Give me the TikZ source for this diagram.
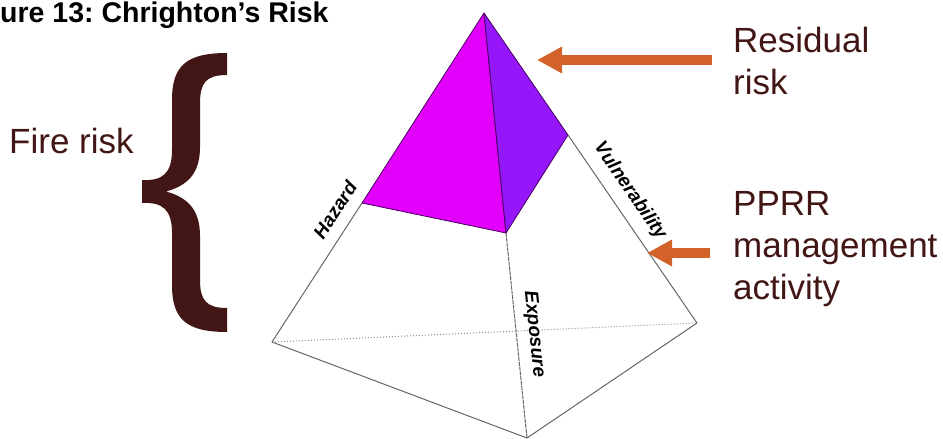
\documentclass[tikz,border=0pt]{standalone}
\usepackage{fontspec}
\setmainfont{Liberation Sans}
\usetikzlibrary{arrows.meta}
\definecolor{riskbrown}{RGB}{66,22,20}
\definecolor{arroworange}{RGB}{210,98,42}
\definecolor{hazface}{RGB}{226,0,250}
\definecolor{vulface}{RGB}{150,22,250}
\definecolor{faceedge}{RGB}{70,0,95}
\frenchspacing

\begin{document}
\begin{tikzpicture}[x=1pt, y=-1pt, every node/.style={inner sep=0pt}, label/.style={font=\fontsize{35}{42}\selectfont, text=riskbrown, align=left}, edgelabel/.style={font=\fontsize{19}{19}\selectfont\bfseries\itshape}, lowedge/.style={draw=black!60, line width=1pt}, riskarrow/.style={draw=arroworange, line width=10pt, -{Triangle[length=25pt,width=25pt]}}]
\useasboundingbox (0,0) rectangle (943,439);
% pyramid corners
\coordinate (apex) at (484,13);
\coordinate (hz) at (362,203);
\coordinate (fc) at (506,233);
\coordinate (vc) at (568,135);
\coordinate (bl) at (272,342);
\coordinate (bf) at (527,438);
\coordinate (br) at (697,323);
% lower, white part
\draw[black!45, dotted, line width=1pt] (bl)--(br);
\draw[lowedge, dash pattern=on 4pt off 0.8pt] (fc)--(bf);
\foreach \a/\b in {hz/bl,bl/bf,bf/br,br/vc} \draw[lowedge] (\a)--(\b);
% residual risk faces
\filldraw[fill=hazface, draw=faceedge, line width=0.8pt, line join=round] (apex)--(hz)--(fc)--cycle;
\filldraw[fill=vulface, draw=faceedge, line width=0.8pt, line join=round] (apex)--(fc)--(vc)--cycle;
\node[edgelabel, rotate=57] (hazard) at (335,210) {Hazard};
\node[edgelabel, rotate=-55.5] (vulner) at (630,191) {Vulnerability};
\node[edgelabel, rotate=-84] (expos) at (534,334) {Exposure};
% title and labels
\node[anchor=base west, font=\fontsize{28.5}{28.5}\selectfont\bfseries] (title) at (0,22) {ure 13: Chrighton’s Risk};
\node[label, anchor=north west] (fire) at (9,128) {Fire risk};
\node[label, anchor=north west] (resid) at (733,27) {Residual\\risk};
\node[label, anchor=north west] (pprr) at (733,191) {PPRR\\management\\activity};
% brace
\fill[riskbrown] (227,53) .. controls (186,53) and (172,66) .. (172,100) -- (172,150) .. controls (172,174) and (162,181) .. (142,180) -- (142,203) .. controls (162,202) and (172,209) .. (172,233) -- (172,285) .. controls (172,319) and (186,332) .. (227,332) -- (227,308) .. controls (206,308) and (200,300) .. (200,280) -- (200,236) .. controls (200,212) and (190,198) .. (166,191.5) .. controls (190,185) and (200,171) .. (200,147) -- (200,103) .. controls (200,83) and (206,75) .. (227,75) -- cycle;
% arrows
\coordinate (rtip) at (537,60);
\coordinate (vtip) at (647,253);
\draw[riskarrow] ([xshift=-21pt]resid.west |- rtip) -- (rtip);
\draw[riskarrow] ([xshift=-23pt]pprr.west |- vtip) -- (vtip);
\end{tikzpicture}
\end{document}
